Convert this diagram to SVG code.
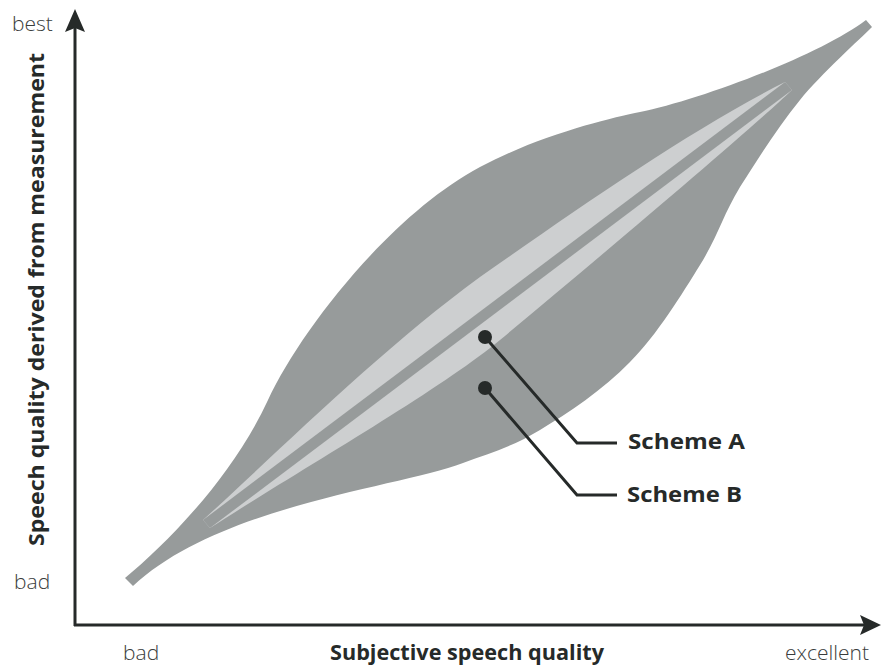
<svg xmlns="http://www.w3.org/2000/svg" width="890" height="669" viewBox="0 0 890 669">
<style>
.band{fill:#979b9b}
.inner{fill:#cdcfd0}
.axis{stroke:#262a29;stroke-width:3;fill:none}
.lead{stroke:#262a29;stroke-width:3;fill:none}
.dot{fill:#262a29}
.lt{font-family:"Open Sans","Noto Sans",sans-serif;font-size:21px;fill:#3a3d3c;font-weight:300}
.bd{font-family:"Open Sans","Noto Sans",sans-serif;font-size:22px;font-weight:bold;fill:#262a29}
</style>
<rect width="890" height="669" fill="#ffffff"/>
<g id="band-outer">
<path class="band" d="M125,578 C165,545 232,478 268,400 C300,331 390,215 480,167 C540,135 610,118 640,112 C700,100 820,55 866,20 L872,27 C860,39 822,73 800,100 C778,127 757,160 740,187 C723,215 718,236 700,265 C682,294 657,335 630,362 C603,390 568,413 540,430 C512,447 490,453 463,463 C400,487 220,505 133,586 Z"/>
</g>
<g id="band-inner">
<path class="inner" d="M203,520 C280,450 380,350 480,277 C580,207 690,130 785,82 L792,90 C750,130 620,240 500,340 C440,390 300,470 210,528 Z"/>
<polygon class="band" points="203,520 785,82 792,90 210,528"/>
</g>
<g id="axes">
<line class="axis" x1="75" y1="26" x2="75" y2="626"/>
<polygon class="dot" points="75,9 85,32 75,28 65,32"/>
<line class="axis" x1="74" y1="625" x2="864" y2="625"/>
<polygon class="dot" points="881,625 860,615 864,625 860,635"/>
</g>
<g id="connectors">
<polyline class="lead" points="485,337 577,443 617,443"/>
<polyline class="lead" points="485,388 577,495 617,495"/>
</g>
<g id="scheme-a">
<circle class="dot" cx="485" cy="337" r="7"/>
<text class="bd" x="628" y="449" textLength="117" lengthAdjust="spacingAndGlyphs">Scheme A</text>
</g>
<g id="scheme-b">
<circle class="dot" cx="485" cy="388" r="7"/>
<text class="bd" x="627" y="502" textLength="115" lengthAdjust="spacingAndGlyphs">Scheme B</text>
</g>
<g id="labels">
<text class="lt" x="12" y="31">best</text>
<text class="lt" x="14" y="589">bad</text>
<text class="lt" x="123" y="660">bad</text>
<text class="lt" x="785" y="660">excellent</text>
<text class="bd" x="330" y="660" textLength="274" lengthAdjust="spacingAndGlyphs">Subjective speech quality</text>
<text class="bd" transform="translate(44,546) rotate(-90)" x="0" y="0" textLength="493" lengthAdjust="spacingAndGlyphs">Speech quality derived from measurement</text>
</g>
</svg>
